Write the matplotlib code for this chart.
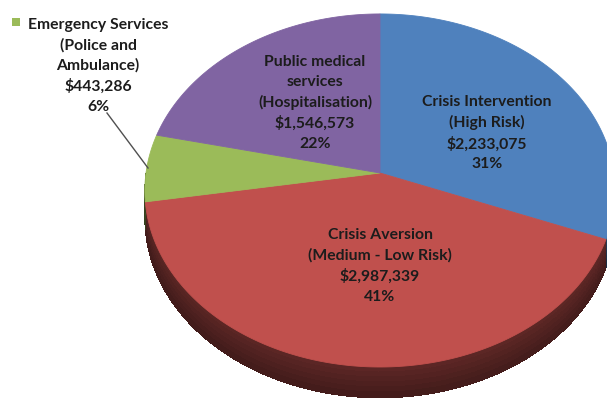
import numpy as np
import matplotlib.pyplot as plt
from matplotlib.patches import Polygon, Rectangle
from matplotlib.collections import PolyCollection
from matplotlib.colors import to_rgb

# cost categories, clockwise from 12 o'clock
categories = ['Crisis Intervention\n(High Risk)',
              'Crisis Aversion\n(Medium - Low Risk)',
              'Emergency Services\n(Police and\nAmbulance)',
              'Public medical\nservices\n(Hospitalisation)']
values = [2233075, 2987339, 443286, 1546573]
pct_labels = ['31%', '41%', '6%', '22%']
colors = ['#4f81bd', '#c0504d', '#9bbb59', '#8064a2']

# pie geometry in pixels (tilted disc with a bit of perspective)
CX, CY = 380, 173
RX, RY = 234, 174.8
K = 0.099
DEPTH = 27
label_xy = [(487, 133), (380, 266), (98, 66), (315, 103)]


def project(phi, rho=1.0, h=0.0):
    X = rho * np.sin(phi)
    Z = rho * np.cos(phi)
    s = 1.0 / (1.0 + K * Z)
    return CX + RX * X * s, CY - RY * Z * s + h * s


fig = plt.figure(figsize=(6.07, 3.98), dpi=100)
ax = fig.add_axes([0, 0, 1, 1])
ax.set_xlim(0, 607)
ax.set_ylim(398, 0)
ax.axis('off')

frac = np.array(values, dtype=float) / np.sum(values)
edges = np.concatenate([[0], np.cumsum(frac)]) * 2 * np.pi

# side walls (only the front half is visible)
quads, qcols = [], []
for i in range(len(values)):
    a0 = max(edges[i], np.pi / 2)
    a1 = min(edges[i + 1], 3 * np.pi / 2)
    if a1 <= a0:
        continue
    base = np.array(to_rgb(colors[i]))
    # solid underlay so seams between the shaded strips don't show
    phis = np.linspace(a0, a1, 200)
    tx, ty = project(phis)
    bx, by = project(phis[::-1], h=DEPTH)
    ax.add_patch(Polygon(np.column_stack([np.r_[tx, bx], np.r_[ty, by]]),
                         facecolor=base * 0.5, edgecolor='none'))
    n = max(int((a1 - a0) / 0.02), 2)
    phis = np.linspace(a0, a1, n + 1)
    bands = np.linspace(0, 1, 7)
    for j in range(n):
        p0, p1 = phis[j], phis[j + 1]
        X = np.sin(0.5 * (p0 + p1))
        for t0, t1 in zip(bands[:-1], bands[1:]):
            c = [project(p0, h=DEPTH * t0), project(p1 + 0.004, h=DEPTH * t0),
                 project(p1 + 0.004, h=DEPTH * t1 + 0.8), project(p0, h=DEPTH * t1 + 0.8)]
            shade = (0.60 - 0.12 * (1 - X) / 2 - 0.10 * (1 + X) / 2) * (1 - 0.3 * 0.5 * (t0 + t1))
            quads.append(c)
            qcols.append(np.clip(base * shade, 0, 1))
ax.add_collection(PolyCollection(quads, facecolors=qcols, edgecolors='none',
                                 antialiaseds=False))

# top surface
for i in range(len(values)):
    phis = np.linspace(edges[i], edges[i + 1], 200)
    xs, ys = project(phis)
    pts = np.column_stack([np.r_[CX, xs], np.r_[CY, ys]])
    ax.add_patch(Polygon(pts, closed=True, facecolor=colors[i], edgecolor=colors[i], lw=0.6))

# data labels
font = dict(family=['Lato', 'DejaVu Sans'], fontweight='bold', fontsize=11.3, color='#1c1c1c')
for i in range(len(values)):
    txt = categories[i] + '\n$' + format(values[i], ',') + '\n' + pct_labels[i]
    ax.text(label_xy[i][0], label_xy[i][1], txt, ha='center', va='center',
            linespacing=1.5, **font)

# legend key and leader line for the small slice
ax.add_patch(Rectangle((12, 18), 8, 8, facecolor=colors[2], edgecolor='none'))
ax.plot([107, 148], [113, 168], color='#505050', lw=1)

fig.savefig('out.png', dpi=100)
